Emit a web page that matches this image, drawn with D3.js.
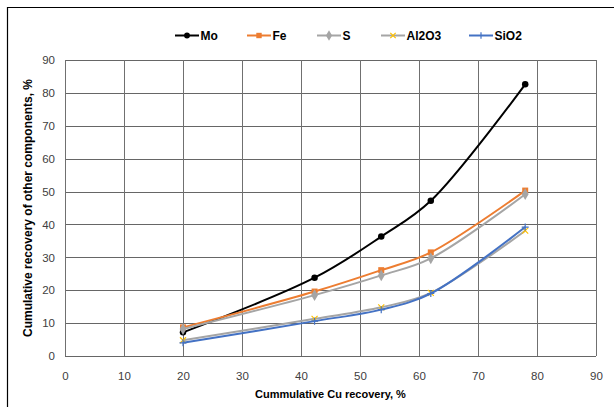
<!DOCTYPE html>
<html>
<head>
<meta charset="utf-8">
<script src="https://cdn.jsdelivr.net/npm/d3@7"></script>
<style>
  body { margin: 0; background: #fff; }
  svg { display: block; font-family: "Liberation Sans", Arial, sans-serif; }
</style>
</head>
<body>
<svg id="chart" width="614" height="407"></svg>
<script>
// Cumulative Cu recovery (x) and cumulative recovery of other components (y)
const cuRecovery = [20, 42.3, 53.6, 62, 78];
const moValues    = [7.2, 23.8, 36.3, 47.2, 82.6];
const feValues    = [8.7, 19.6, 26.1, 31.5, 50.3];
const sValues     = [8.2, 18.5, 24.5, 29.7, 49.2];
const al2o3Values = [4.8, 11.3, 14.8, 19.2, 38.1];
const sio2Values  = [4.0, 10.6, 14.1, 19.0, 39.2];
const xTicks = [0, 10, 20, 30, 40, 50, 60, 70, 80, 90];
const yTicks = [0, 10, 20, 30, 40, 50, 60, 70, 80, 90];

const series = [
  { name: "Mo",    values: moValues,    color: "#000000", marker: "circle" },
  { name: "Fe",    values: feValues,    color: "#ED7D31", marker: "square" },
  { name: "S",     values: sValues,     color: "#A5A5A5", marker: "diamond" },
  { name: "Al2O3", values: al2o3Values, color: "#A5A5A5", marker: "x", markerColor: "#FFC000" },
  { name: "SiO2",  values: sio2Values,  color: "#4472C4", marker: "plus" }
];

const svg = d3.select("#chart");
const W = 614, H = 407;
const margin = { left: 65, right: 18, top: 60, bottom: 51 };

const x = d3.scaleLinear().domain([0, 90]).range([margin.left, W - margin.right]);
const y = d3.scaleLinear().domain([0, 90]).range([H - margin.bottom, margin.top]);

// outer frame (top and left edges visible)
svg.append("path")
  .attr("d", `M7.5,${H} L7.5,7.5 L${W},7.5`)
  .attr("fill", "none").attr("stroke", "#000").attr("stroke-width", 1.2);

// grid
const grid = svg.append("g");
grid.selectAll("line.h").data(yTicks).join("line")
  .attr("x1", x(0)).attr("x2", x(90))
  .attr("y1", d => Math.round(y(d)) + 0.5).attr("y2", d => Math.round(y(d)) + 0.5)
  .attr("stroke", "#666").attr("stroke-width", 1);
grid.selectAll("line.v").data(xTicks).join("line")
  .attr("y1", y(0)).attr("y2", y(90))
  .attr("x1", d => Math.round(x(d)) + 0.5).attr("x2", d => Math.round(x(d)) + 0.5)
  .attr("stroke", "#707070").attr("stroke-width", 1);

// tick labels
const xAxis = d3.axisBottom(x).tickValues(xTicks).tickSize(0).tickPadding(16);
svg.append("g").attr("transform", `translate(0,${y(0)})`).call(xAxis)
  .call(g => g.select(".domain").remove())
  .selectAll("text").attr("font-size", 11.5).attr("fill", "#404040")
  .attr("font-family", "Liberation Sans, Arial, sans-serif");

const yAxis = d3.axisLeft(y).tickValues(yTicks).tickSize(0).tickPadding(10);
svg.append("g").attr("transform", `translate(${x(0)},0)`).call(yAxis)
  .call(g => g.select(".domain").remove())
  .selectAll("text").attr("font-size", 11.5).attr("fill", "#404040")
  .attr("font-family", "Liberation Sans, Arial, sans-serif");

// axis titles
svg.append("text")
  .attr("x", (x(0) + x(90)) / 2).attr("y", 398)
  .attr("text-anchor", "middle").attr("font-size", 11).attr("font-weight", "bold")
  .attr("fill", "#000").text("Cummulative Cu recovery, %");

svg.append("text")
  .attr("transform", `translate(31.5,${(y(0) + y(90)) / 2}) rotate(-90)`)
  .attr("text-anchor", "middle").attr("font-size", 12).attr("font-weight", "bold")
  .attr("fill", "#000").text("Cumulative recovery of other components, %");

// marker shapes
function drawMarker(g, type, cx, cy, color, s) {
  if (type === "circle") {
    g.append("circle").attr("cx", cx).attr("cy", cy).attr("r", s * 0.65).attr("fill", color);
  } else if (type === "square") {
    g.append("rect").attr("x", cx - s * 0.6).attr("y", cy - s * 0.6)
      .attr("width", s * 1.2).attr("height", s * 1.2).attr("fill", color);
  } else if (type === "diamond") {
    g.append("path").attr("d", d3.symbol(d3.symbolDiamond, s * s * 1.6)())
      .attr("transform", `translate(${cx},${cy})`).attr("fill", color);
  } else if (type === "x") {
    const h = s * 0.6;
    g.append("path").attr("d", `M${cx - h},${cy - h}L${cx + h},${cy + h}M${cx + h},${cy - h}L${cx - h},${cy + h}`)
      .attr("stroke", color).attr("stroke-width", 1.2);
  } else if (type === "plus") {
    const h = s * 0.7;
    g.append("path").attr("d", `M${cx - h},${cy}L${cx + h},${cy}M${cx},${cy - h}L${cx},${cy + h}`)
      .attr("stroke", color).attr("stroke-width", 1.2);
  }
}

const line = d3.line()
  .x((d, i) => x(cuRecovery[i]))
  .y(d => y(d))
  .curve(d3.curveCatmullRom.alpha(0.5));

const plot = svg.append("g");
series.forEach(s => {
  const g = plot.append("g");
  g.append("path").attr("d", line(s.values))
    .attr("fill", "none").attr("stroke", s.color).attr("stroke-width", 2);
  s.values.forEach((v, i) => drawMarker(g, s.marker, x(cuRecovery[i]), y(v), s.markerColor || s.color, 5));
});

// legend
const legendX = [175, 247, 317, 381, 469];
const legend = svg.append("g");
series.forEach((s, i) => {
  const lx = legendX[i], ly = 35.5;
  legend.append("line").attr("x1", lx).attr("x2", lx + 24).attr("y1", ly).attr("y2", ly)
    .attr("stroke", s.color).attr("stroke-width", 2);
  drawMarker(legend, s.marker, lx + 12, ly, s.markerColor || s.color, 4.5);
  legend.append("text").attr("x", lx + 25.5).attr("y", ly + 4.5)
    .attr("font-size", 12).attr("font-weight", "bold").attr("fill", "#000").text(s.name);
});
</script>
</body>
</html>
